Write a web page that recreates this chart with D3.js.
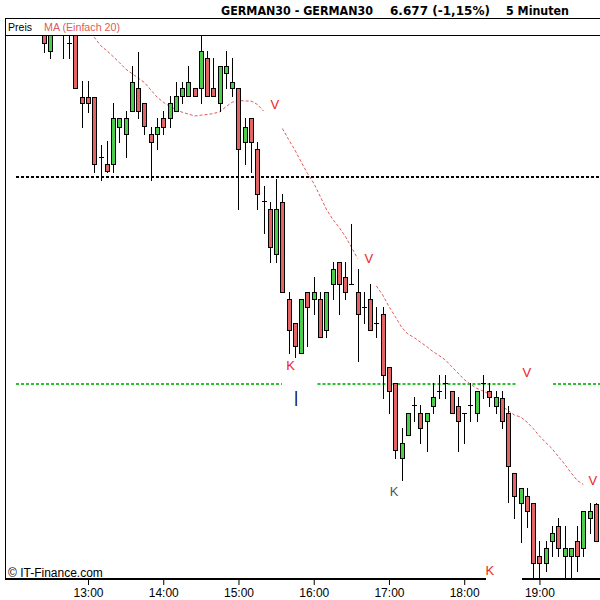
<!DOCTYPE html>
<html><head><meta charset="utf-8">
<script src="https://cdn.jsdelivr.net/npm/d3@7"></script>
<style>body{margin:0;background:#fff}svg{display:block}</style>
</head><body>
<svg id="c" width="600" height="600"></svg>
<script>
const times = ["12:25","12:30","12:35","12:40","12:45","12:50","12:55",
"13:00","13:05","13:10","13:15","13:20","13:25","13:30","13:35","13:40","13:45","13:50","13:55",
"14:00","14:05","14:10","14:15","14:20","14:25","14:30","14:35","14:40","14:45","14:50","14:55",
"15:00","15:05","15:10","15:15","15:20","15:25","15:30","15:35","15:40","15:45","15:50","15:55",
"16:00","16:05","16:10","16:15","16:20","16:25","16:30","16:35","16:40","16:45","16:50","16:55",
"17:00","17:05","17:10","17:15","17:20","17:25","17:30","17:35","17:40","17:45","17:50","17:55",
"18:00","18:05","18:10","18:15","18:20","18:25","18:30","18:35","18:40","18:45","18:50","18:55",
"19:00","19:05","19:10","19:15","19:20","19:25","19:30","19:35","19:40","19:45"];

const open = [6728.3,6725.97,6728.1,6728.3,6726.77,6728.1,6721.43,
6721.43,6721.43,6715.43,6714.67,6714.67,6718.43,6717.67,6720.0,6722.27,6720.77,6717.67,6717.67,
6719.27,6719.27,6720.0,6721.5,6721.5,6722.27,6722.27,6725.27,6722.27,6720.77,6723.77,6722.27,
6722.27,6716.93,6719.27,6716.17,6711.0,6710.17,6705.67,6710.93,6701.17,6698.83,6695.83,6701.87,
6701.17,6701.17,6698.1,6702.67,6704.87,6703.37,6702.67,6701.87,6700.37,6701.17,6698.83,6699.67,
6694.37,6692.83,6685.27,6687.6,6690.6,6689.77,6689.03,6690.53,6692.03,6692.83,6692.03,6690.53,
6689.77,6690.6,6689.77,6692.83,6692.03,6690.53,6691.3,6689.77,6683.77,6680.77,6681.53,6680.77,
6675.5,6674.77,6677.0,6678.5,6675.5,6675.5,6677.0,6676.27,6679.27,6680.7];

const high = [6728.6,6728.6,6728.9,6728.9,6728.6,6728.6,6723.0,
6723.0,6721.43,6716.6,6717.0,6720.83,6719.27,6720.0,6724.5,6725.93,6720.77,6718.43,6719.27,
6720.0,6721.5,6722.93,6722.93,6724.5,6722.27,6727.7,6726.0,6725.27,6724.5,6726.0,6725.27,
6722.27,6719.27,6719.27,6716.93,6712.5,6710.93,6713.2,6711.67,6701.87,6698.83,6701.17,6701.87,
6703.37,6701.87,6701.87,6704.87,6704.87,6704.87,6708.7,6704.17,6701.87,6702.67,6700.37,6700.37,
6694.37,6692.83,6688.27,6689.77,6691.37,6690.6,6689.77,6692.83,6693.6,6693.6,6692.03,6691.37,
6689.77,6692.83,6692.03,6693.6,6692.83,6692.03,6692.03,6690.53,6683.77,6682.27,6682.27,6680.77,
6677.0,6677.0,6678.5,6679.27,6678.5,6676.27,6678.5,6680.0,6680.77,6680.77];

const low = [6725.93,6725.27,6727.8,6725.27,6725.27,6722.27,6718.43,
6719.93,6713.93,6713.1,6713.93,6713.93,6716.93,6715.43,6720.0,6719.27,6717.67,6713.1,6716.17,
6717.67,6718.43,6720.0,6720.77,6721.5,6721.5,6720.77,6721.5,6721.5,6720.0,6722.27,6721.5,
6710.17,6714.67,6713.93,6710.17,6707.83,6704.87,6704.87,6701.87,6695.83,6695.43,6695.83,6696.53,
6699.67,6697.37,6697.37,6701.17,6699.67,6701.17,6702.67,6695.03,6698.83,6698.1,6697.37,6691.33,
6689.77,6685.27,6683.1,6687.6,6689.03,6686.77,6686.03,6689.77,6691.33,6691.33,6689.77,6686.03,
6686.77,6689.03,6689.03,6691.33,6690.53,6689.77,6688.27,6680.9,6679.27,6676.93,6678.43,6672.9,
6672.8,6674.0,6675.5,6675.5,6672.9,6672.9,6674.0,6675.5,6677.77,6676.97];

const close = [6726.77,6728.1,6728.3,6727.9,6726.77,6722.27,6720.77,
6720.77,6714.67,6715.43,6714.0,6719.27,6719.27,6719.27,6722.93,6720.0,6718.5,6716.93,6718.43,
6718.43,6720.77,6721.5,6722.27,6722.93,6721.5,6726.0,6721.5,6721.5,6724.5,6724.5,6722.93,
6716.17,6718.43,6716.93,6711.67,6711.0,6706.37,6710.17,6701.87,6698.1,6696.53,6701.17,6700.37,
6701.87,6697.37,6701.87,6704.17,6702.67,6701.87,6702.67,6699.67,6700.37,6698.1,6698.83,6693.6,
6692.03,6686.1,6686.77,6689.77,6690.6,6688.27,6689.77,6691.37,6692.03,6692.83,6689.77,6689.03,
6689.77,6690.6,6692.03,6692.83,6691.37,6691.37,6689.03,6684.53,6681.53,6682.27,6680.0,6674.77,
6674.77,6676.27,6677.77,6676.27,6676.27,6676.27,6675.5,6680.0,6680.0,6677.0];

// MA (Einfach 20); null where the line is hidden
const ma20 = [null,null,null,null,null,null,null,
6728.2,6727.37,6726.55,6726.03,6725.45,6724.85,6724.2,6723.75,6723.3,6722.85,6722.12,6721.4,
6720.88,6720.48,6720.15,6719.88,6719.7,6719.5,6719.58,6719.65,6719.75,6719.92,6720.43,6720.88,
6721.06,6721.0,6721.0,6720.66,6720.0,null,null,6718.25,6717.15,6716.1,6714.9,6713.75,
6712.8,6711.5,6710.2,6709.2,6708.4,6707.5,6706.4,6705.25,null,null,6702.5,6701.6,
6700.45,6699.45,6698.4,6697.7,6697.35,6696.9,6696.45,6695.95,6695.55,6695.1,6694.45,6693.8,
6693.15,6692.67,6692.27,6692.0,6691.7,6691.25,6690.5,6690.05,6689.6,6689.4,6688.9,6688.25,
6687.5,6686.85,6686.25,6685.45,6684.7,6683.85,6683.07,6682.65,null,null];

// horizontal levels: price and visible time segments (minutes of day)
const levelBlack = {price: 6713.4, segments: [[722.6, 1200]]};
const levelGreen = {price: 6692.7, segments: [[722.6, 934.7], [963.0, 1122.1], [1150.8, 1200]]};
const axisSegments = [[708, 1097.4], [1126.1, 1200]];

const tickLabels = ["13:00","14:00","15:00","16:00","17:00","18:00","19:00","20:00"];

// signal annotations: time (minutes), price, text
const signals = [
  {t: 929, p: 6720.7, s: "V", c: "#ee1c1c"},
  {t: 1004, p: 6705.3, s: "V", c: "#ee1c1c"},
  {t: 1130, p: 6693.9, s: "V", c: "#ee1c1c"},
  {t: 1182.5, p: 6683.1, s: "V", c: "#ee1c1c"},
  {t: 941.5, p: 6694.6, s: "K", c: "#ee1c1c"},
  {t: 1100.5, p: 6674.1, s: "K", c: "#ee1c1c"},
  {t: 1024, p: 6682.0, s: "K", c: "#555555"},
  {t: 946, p: 6691.4, s: "|", c: "#000000"}
];

const toMin = s => { const [h, m] = s.split(":").map(Number); return h * 60 + m; };

const svg = d3.select("#c");
const x = d3.scaleLinear().domain([780, 1200]).range([88, 614.68]);
const y = d3.scaleLinear().domain([6727.6, 6673.1]).range([35, 580]);

const data = times.map((t, i) => ({t: toMin(t), o: open[i], h: high[i], l: low[i], c: close[i], ma: ma20[i]}));

// header
const hdr = svg.append("g").attr("font-family", "'DejaVu Sans', Verdana, sans-serif").attr("font-weight", "bold").attr("font-size", 13).attr("fill", "#000");
hdr.append("text").attr("x", 221).attr("y", 15).attr("textLength", 152).attr("lengthAdjust", "spacingAndGlyphs").text("GERMAN30 - GERMAN30");
hdr.append("text").attr("x", 390).attr("y", 15).attr("textLength", 100).attr("lengthAdjust", "spacingAndGlyphs").text("6.677 (-1,15%)");
hdr.append("text").attr("x", 506).attr("y", 15).attr("textLength", 63).attr("lengthAdjust", "spacingAndGlyphs").text("5 Minuten");

// frame
svg.append("line").attr("x1", 5).attr("x2", 600).attr("y1", 18.5).attr("y2", 18.5).attr("stroke", "#000");
svg.append("line").attr("x1", 5).attr("x2", 600).attr("y1", 35.5).attr("y2", 35.5).attr("stroke", "#000");
svg.append("line").attr("x1", 5.5).attr("x2", 5.5).attr("y1", 18).attr("y2", 580).attr("stroke", "#000");

const leg = svg.append("g").attr("font-family", "'Liberation Sans', Arial, sans-serif").attr("font-size", 11);
leg.append("text").attr("x", 8).attr("y", 31).attr("textLength", 24).attr("lengthAdjust", "spacingAndGlyphs").attr("fill", "#000").text("Preis");
leg.append("text").attr("x", 44).attr("y", 31).attr("textLength", 76).attr("lengthAdjust", "spacingAndGlyphs").attr("fill", "#e05a5a").text("MA (Einfach 20)");

svg.append("defs").append("clipPath").attr("id", "plot").append("rect").attr("x", 6).attr("y", 36).attr("width", 594).attr("height", 542);
const plot = svg.append("g").attr("clip-path", "url(#plot)");

// levels
function drawLevel(lv, color) {
  lv.segments.forEach(sg => {
    plot.append("line").attr("x1", x(sg[0])).attr("x2", x(sg[1]))
      .attr("y1", Math.round(y(lv.price))).attr("y2", Math.round(y(lv.price)))
      .attr("stroke", color).attr("stroke-width", 2).attr("stroke-dasharray", "3,2");
  });
}
drawLevel(levelBlack, "#000");
drawLevel(levelGreen, "#2ec02e");

// MA line
plot.append("path").datum(data)
  .attr("fill", "none").attr("stroke", "#e25a5a").attr("stroke-width", 1).attr("stroke-dasharray", "3,2")
  .attr("d", d3.line().defined(d => d.ma != null).x(d => x(d.t)).y(d => y(d.ma)));

// candles
const cg = plot.append("g");
data.forEach(d => {
  const cx = Math.round(x(d.t));
  cg.append("line").attr("x1", cx + 0.5).attr("x2", cx + 0.5)
    .attr("y1", Math.round(y(d.h))).attr("y2", Math.round(y(d.l)) + 1)
    .attr("stroke", "#000").attr("stroke-width", 1);
  const top = Math.round(y(Math.max(d.o, d.c)));
  const bot = Math.round(y(Math.min(d.o, d.c)));
  if (bot - top < 2) {
    cg.append("line").attr("x1", cx - 2).attr("x2", cx + 3)
      .attr("y1", top + 0.5).attr("y2", top + 0.5).attr("stroke", "#000");
  } else {
    cg.append("rect").attr("x", cx - 1.5).attr("y", top + 0.5)
      .attr("width", 4).attr("height", bot - top)
      .attr("fill", d.c >= d.o ? "#4ccd4c" : "#e36464")
      .attr("stroke", "#000").attr("stroke-width", 1);
  }
});

// signals
plot.append("g").attr("font-family", "'Liberation Sans', Arial, sans-serif")
  .selectAll("text").data(signals).join("text")
  .attr("font-size", d => d.s === "|" ? 16 : 13)
  .attr("x", d => x(d.t)).attr("y", d => y(d.p)).attr("dy", "0.36em")
  .attr("text-anchor", "middle").attr("fill", d => d.c).text(d => d.s);

// copyright
svg.append("text").attr("x", 8).attr("y", 577).attr("font-family", "'Liberation Sans', Arial, sans-serif")
  .attr("font-size", 12).attr("fill", "#000").text("\u00A9 IT-Finance.com");

// x axis
axisSegments.forEach(sg => {
  svg.append("line").attr("x1", Math.max(5, x(sg[0]))).attr("x2", x(sg[1]))
    .attr("y1", 579).attr("y2", 579).attr("stroke", "#000").attr("stroke-width", 2);
});
const ax = svg.append("g").attr("transform", "translate(0,580)")
  .call(d3.axisBottom(x).tickValues(tickLabels.map(toMin)).tickSize(5).tickFormat((v, i) => tickLabels[i]));
ax.select(".domain").remove();
ax.selectAll(".tick line").attr("stroke", "#000");
ax.selectAll(".tick text").attr("font-family", "'Liberation Sans', Arial, sans-serif").attr("font-size", 12).attr("fill", "#000").attr("y", 8).attr("dy", "0.71em");
</script>
</body></html>
